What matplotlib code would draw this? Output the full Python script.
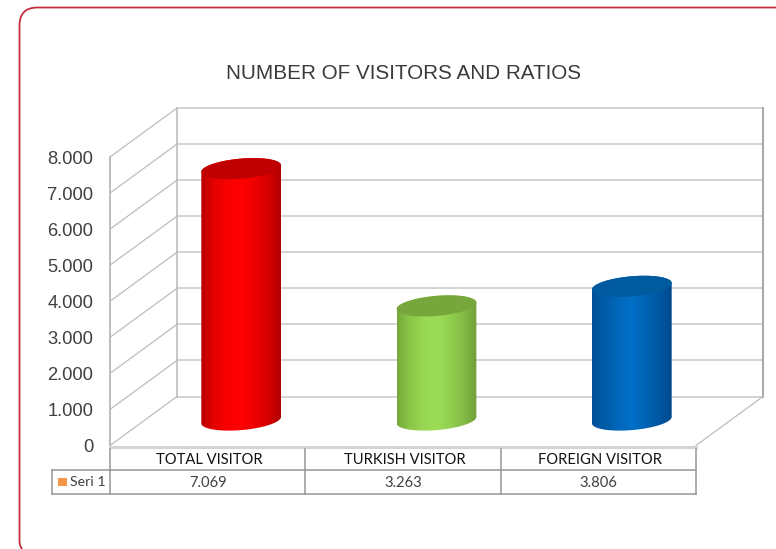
import numpy as np
import matplotlib
matplotlib.use("Agg")
import matplotlib.pyplot as plt
from matplotlib.path import Path
from matplotlib.patches import PathPatch
from matplotlib.colors import LinearSegmentedColormap

categories = ["TOTAL VISITOR", "TURKISH VISITOR", "FOREIGN VISITOR"]
values = [7069, 3263, 3806]
value_labels = ["7.069", "3.263", "3.806"]
y_ticks = [0, 1000, 2000, 3000, 4000, 5000, 6000, 7000, 8000]
y_tick_labels = ["0", "1.000", "2.000", "3.000", "4.000", "5.000", "6.000", "7.000", "8.000"]
series_name = "Seri 1"
title = "NUMBER OF VISITORS AND RATIOS"
body_colors = [["#b80000", "#e60000", "#f80000", "#ff0000", "#f00000", "#d80000", "#b00000"],
               ["#76a83a", "#8cc84a", "#98d853", "#9cdd56", "#92d050", "#84bb46", "#6f9f36"],
               ["#004f98", "#005ca8", "#0068bc", "#0070c8", "#0064b4", "#0058a4", "#004a8e"]]
top_colors = ["#c00000", "#76a63c", "#005a9e"]

W, H = 776, 549
X0, X3 = 110.0, 696.0      # front plane pixel extent
Y0, Y8 = 445.5, 157.0      # front plane pixel extent for 0 and 8000
sx = (X3 - X0) / 3.0       # pixels per category
sy = (Y0 - Y8) / 8000.0    # pixels per unit
DX, DY = 67.0 / sx, 49.0 / sy  # depth offset, data units

fig = plt.figure(figsize=(W / 100, H / 100), dpi=100)
ax = fig.add_axes([0, 0, 1, 1])


def X(p):
    return (p - X0) / sx


def Y(p):
    return (Y0 - p) / sy


# outer rounded frame
r, fx, fy = 18, 19.5, 7.5
verts = [(W + 5, fy), (fx + r, fy), (fx, fy), (fx, fy + r), (fx, H - 8), (fx, H - 1), (fx + 6, H + 4)]
codes = [Path.MOVETO, Path.LINETO, Path.CURVE3, Path.CURVE3, Path.LINETO, Path.CURVE3, Path.CURVE3]
ax.add_patch(PathPatch(Path([(X(a), Y(b)) for a, b in verts], codes), fc="none", ec="#c5303f", lw=1.3, zorder=1))

# walls and gridlines
grid = "#bdbdbd"
for t in y_ticks:
    ax.plot([0, DX], [t, t + DY], color=grid, lw=0.9, zorder=2)
    ax.plot([DX, 3 + DX], [t + DY, t + DY], color="#cccccc", lw=1.2, zorder=2)
ax.plot([DX, DX], [DY, 8000 + DY], color=grid, lw=1.2, zorder=2)
ax.plot([3 + DX, 3 + DX], [DY, 8000 + DY], color="#a0a0a0", lw=1.3, zorder=2)
ax.plot([0, 0], [0, 8000], color=grid, lw=1.4, zorder=2)
ax.plot([3, 3 + DX], [0, DY], color=grid, lw=0.9, zorder=2)
ax.plot([0, 3], [-50, -50], color="#d4d4d4", lw=2.2, zorder=2)

# cylinders
a_px, b_px, tilt = 40.0, 10.0, np.deg2rad(5.0)
t = np.linspace(0, 2 * np.pi, 121)[:-1]
ex = a_px * np.cos(t) * np.cos(tilt) - b_px * np.sin(t) * np.sin(tilt)
ey = a_px * np.cos(t) * np.sin(tilt) + b_px * np.sin(t) * np.cos(tilt)
n = len(t)
for i, v in enumerate(values):
    cx = i + 0.5 + DX / 2
    base = DY * 0.56 - 2.0 / sy
    top = v + base - 3.5 / sy
    ell_x = cx + ex / sx
    ell_y_top = top + ey / sy
    ell_y_base = base + ey / sy
    right, left = int(np.argmax(ell_x)), int(np.argmin(ell_x))
    # lower arc of the base runs clockwise from right to left; upper arc of the top from left to right
    arc_low = [(right - k) % n for k in range(n) if (right - k) % n != left]
    arc_low = arc_low[:((right - left) % n)] + [left]
    arc_up = [(left - k) % n for k in range((left - right) % n + 1)]
    poly = [(ell_x[k], ell_y_base[k]) for k in arc_low] + [(ell_x[k], ell_y_top[k]) for k in arc_up]
    cmap = LinearSegmentedColormap.from_list("c", body_colors[i])
    grad = np.linspace(0, 1, 256)[None, :]
    im = ax.imshow(grad, cmap=cmap, aspect="auto", interpolation="bilinear",
                   extent=[ell_x.min(), ell_x.max(), base - 500, top + 500], zorder=3)
    clip = PathPatch(Path(poly + [poly[0]]), transform=ax.transData, fc="none", ec="none")
    ax.add_patch(clip)
    im.set_clip_path(clip)
    ax.fill(ell_x, ell_y_top, color=top_colors[i], lw=0, zorder=4)

ax.set_xlim((0 - X0) / sx, (W - X0) / sx)
ax.set_ylim((Y0 - H) / sy, Y0 / sy)
ax.axis("off")

# value axis labels
for t_, lab in zip(y_ticks, y_tick_labels):
    ax.text(X(93), t_ - 2.0 / sy, lab, ha="right", va="center", fontsize=13.2,
            family="Liberation Sans", color="#404040", zorder=5)

ax.text(X(403.5), Y(73.5), title, ha="center", va="center", fontsize=14.9,
        family="Liberation Sans", color="#3a3a3a")

# data table
line = "#969696"
y1, y2, y3 = Y(449), Y(469.5), Y(494)
ax.plot([X(52), 3], [y2, y2], color=line, lw=1.1)
ax.plot([X(52), 3], [y3, y3], color=line, lw=1.1)
ax.plot([X(52), X(52)], [y2, y3], color=line, lw=1.1)
for k in range(4):
    ax.plot([k, k], [y1, y3], color=line, lw=1.1)
for i, (c, lab) in enumerate(zip(categories, value_labels)):
    ax.text(i + 0.5 + 2.0 / sx, Y(460), c, ha="center", va="center", fontsize=10.6, family="Lato", color="#111111")
    ax.text(i + 0.5, Y(483), lab, ha="center", va="center", fontsize=10.6, family="Lato", color="#404040")
ax.fill([X(58), X(67), X(67), X(58)], [Y(477.5), Y(477.5), Y(486), Y(486)], color="#f79646", lw=0)
ax.text(X(69.5), Y(482.5), series_name, ha="left", va="center", fontsize=10.2, family="Lato", color="#404040")

fig.savefig("out.png", dpi=100)
